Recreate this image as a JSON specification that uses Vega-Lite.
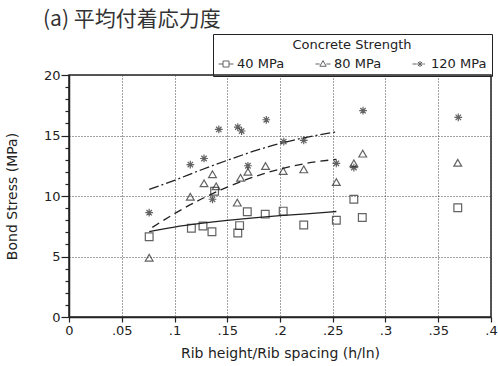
{
  "$schema": "https://vega.github.io/schema/vega-lite/v6.json",
  "width": 422,
  "height": 242,
  "autosize": {"type": "none"},
  "padding": {"left": 69, "top": 75, "right": 7, "bottom": 49},
  "title": {"text": "(a) 平均付着応力度", "anchor": "start", "frame": "group", "dx": -26, "font": "Noto Sans CJK JP", "fontSize": 21, "fontWeight": "normal", "color": "#333"},
  "datasets": {
    "points": [
      {"x": 0.076, "y": 6.64, "series": "40 MPa"},
      {"x": 0.116, "y": 7.33, "series": "40 MPa"},
      {"x": 0.127, "y": 7.52, "series": "40 MPa"},
      {"x": 0.1355, "y": 7.05, "series": "40 MPa"},
      {"x": 0.138, "y": 10.4, "series": "40 MPa"},
      {"x": 0.160, "y": 6.95, "series": "40 MPa"},
      {"x": 0.1617, "y": 7.55, "series": "40 MPa"},
      {"x": 0.169, "y": 8.7, "series": "40 MPa"},
      {"x": 0.186, "y": 8.5, "series": "40 MPa"},
      {"x": 0.203, "y": 8.75, "series": "40 MPa"},
      {"x": 0.2225, "y": 7.6, "series": "40 MPa"},
      {"x": 0.2534, "y": 8.0, "series": "40 MPa"},
      {"x": 0.270, "y": 9.73, "series": "40 MPa"},
      {"x": 0.278, "y": 8.22, "series": "40 MPa"},
      {"x": 0.3685, "y": 9.03, "series": "40 MPa"},
      {"x": 0.076, "y": 4.9, "series": "80 MPa"},
      {"x": 0.115, "y": 9.94, "series": "80 MPa"},
      {"x": 0.128, "y": 11.05, "series": "80 MPa"},
      {"x": 0.136, "y": 11.8, "series": "80 MPa"},
      {"x": 0.1395, "y": 10.8, "series": "80 MPa"},
      {"x": 0.1595, "y": 9.45, "series": "80 MPa"},
      {"x": 0.1626, "y": 11.5, "series": "80 MPa"},
      {"x": 0.1696, "y": 12.0, "series": "80 MPa"},
      {"x": 0.1863, "y": 12.48, "series": "80 MPa"},
      {"x": 0.203, "y": 12.07, "series": "80 MPa"},
      {"x": 0.2225, "y": 12.2, "series": "80 MPa"},
      {"x": 0.2534, "y": 11.15, "series": "80 MPa"},
      {"x": 0.270, "y": 12.7, "series": "80 MPa"},
      {"x": 0.2784, "y": 13.5, "series": "80 MPa"},
      {"x": 0.3685, "y": 12.75, "series": "80 MPa"},
      {"x": 0.076, "y": 8.62, "series": "120 MPa"},
      {"x": 0.115, "y": 12.6, "series": "120 MPa"},
      {"x": 0.128, "y": 13.1, "series": "120 MPa"},
      {"x": 0.136, "y": 9.73, "series": "120 MPa"},
      {"x": 0.142, "y": 15.5, "series": "120 MPa"},
      {"x": 0.160, "y": 15.7, "series": "120 MPa"},
      {"x": 0.1636, "y": 15.37, "series": "120 MPa"},
      {"x": 0.1696, "y": 12.5, "series": "120 MPa"},
      {"x": 0.187, "y": 16.3, "series": "120 MPa"},
      {"x": 0.2036, "y": 14.5, "series": "120 MPa"},
      {"x": 0.2225, "y": 14.6, "series": "120 MPa"},
      {"x": 0.2534, "y": 12.7, "series": "120 MPa"},
      {"x": 0.270, "y": 12.35, "series": "120 MPa"},
      {"x": 0.2787, "y": 17.05, "series": "120 MPa"},
      {"x": 0.369, "y": 16.5, "series": "120 MPa"}
    ],
    "curves": [
      {"x": 0.076, "y": 7.05, "series": "40 MPa"},
      {"x": 0.1, "y": 7.43, "series": "40 MPa"},
      {"x": 0.125, "y": 7.73, "series": "40 MPa"},
      {"x": 0.15, "y": 7.98, "series": "40 MPa"},
      {"x": 0.175, "y": 8.19, "series": "40 MPa"},
      {"x": 0.2, "y": 8.37, "series": "40 MPa"},
      {"x": 0.225, "y": 8.53, "series": "40 MPa"},
      {"x": 0.2534, "y": 8.72, "series": "40 MPa"},
      {"x": 0.079, "y": 7.41, "series": "80 MPa"},
      {"x": 0.1, "y": 8.54, "series": "80 MPa"},
      {"x": 0.125, "y": 9.73, "series": "80 MPa"},
      {"x": 0.15, "y": 10.73, "series": "80 MPa"},
      {"x": 0.175, "y": 11.57, "series": "80 MPa"},
      {"x": 0.2, "y": 12.22, "series": "80 MPa"},
      {"x": 0.225, "y": 12.7, "series": "80 MPa"},
      {"x": 0.2534, "y": 13.03, "series": "80 MPa"},
      {"x": 0.076, "y": 10.55, "series": "120 MPa"},
      {"x": 0.1, "y": 11.3, "series": "120 MPa"},
      {"x": 0.125, "y": 12.15, "series": "120 MPa"},
      {"x": 0.15, "y": 12.95, "series": "120 MPa"},
      {"x": 0.175, "y": 13.7, "series": "120 MPa"},
      {"x": 0.2, "y": 14.35, "series": "120 MPa"},
      {"x": 0.225, "y": 14.85, "series": "120 MPa"},
      {"x": 0.2534, "y": 15.3, "series": "120 MPa"}
    ]
  },
  "encoding": {
    "x": {
      "field": "x", "type": "quantitative",
      "scale": {"domain": [0, 0.4], "nice": false},
      "axis": {
        "values": [0, 0.05, 0.1, 0.15, 0.2, 0.25, 0.3, 0.35, 0.4],
        "labelExpr": "datum.value === 0 ? '0' : replace(format(datum.value, '.2~f'), '0.', '.')",
        "labelFlush": false, "labelOverlap": false,
        "tickSize": 5, "labelPadding": 2,
        "title": "Rib height/Rib spacing (h/ln)", "titlePadding": 9
      }
    },
    "y": {
      "field": "y", "type": "quantitative",
      "scale": {"domain": [0, 20], "nice": false},
      "axis": {
        "values": [0,1,2,3,4,5,6,7,8,9,10,11,12,13,14,15,16,17,18,19,20],
        "labelExpr": "datum.value % 5 === 0 ? datum.label : ''",
        "labelOverlap": false, "labelPadding": 1,
        "tickSize": {"condition": {"test": "datum.value % 5 === 0", "value": 8}, "value": 4},
        "gridOpacity": {"condition": {"test": "datum.value % 5 === 0", "value": 1}, "value": 0},
        "title": "Bond Stress (MPa)", "titlePadding": 24
      }
    }
  },
  "layer": [
    {
      "data": {"name": "curves"},
      "transform": [{"filter": "datum.series === '40 MPa'"}],
      "mark": {"type": "line", "interpolate": "monotone", "color": "#222", "strokeWidth": 1.3},
      "encoding": {}
    },
    {
      "data": {"name": "curves"},
      "transform": [{"filter": "datum.series === '80 MPa'"}],
      "mark": {"type": "line", "interpolate": "monotone", "color": "#222", "strokeWidth": 1.3, "strokeDash": [8, 5]},
      "encoding": {}
    },
    {
      "data": {"name": "curves"},
      "transform": [{"filter": "datum.series === '120 MPa'"}],
      "mark": {"type": "line", "interpolate": "monotone", "color": "#222", "strokeWidth": 1.3, "strokeDash": [10, 3, 2, 3]},
      "encoding": {}
    },
    {
      "data": {"name": "points"},
      "mark": {"type": "point", "filled": false, "color": "#222", "strokeWidth": 1.2, "size": 60},
      "encoding": {
        "shape": {
          "field": "series", "type": "nominal",
          "scale": {"domain": ["40 MPa", "80 MPa", "120 MPa"], "range": ["square", "triangle-up", "M-1,0H1M0,-1V1M-0.7,-0.7L0.7,0.7M-0.7,0.7L0.7,-0.7"]},
          "legend": null
        }
      }
    },
    {
      "data": {"name": "points"},
      "transform": [{"filter": "datum.x > 1"}],
      "mark": {"type": "point", "filled": false, "color": "#222", "strokeWidth": 1},
      "encoding": {
        "shape": {
          "field": "series", "type": "nominal",
          "scale": {"domain": ["40 MPa", "80 MPa", "120 MPa"], "range": [
            "M-1,0H-0.4M0.4,0H1M-0.4,-0.4H0.4V0.4H-0.4Z",
            "M-1,0H-0.45M0.45,0H1M0,-0.45L0.42,0.3H-0.42Z",
            "M-1,0H-0.45M0.45,0H0.65M-0.4,0H0.4M0,-0.4V0.4M-0.28,-0.28L0.28,0.28M-0.28,0.28L0.28,-0.28"
          ]},
          "legend": {
            "title": "Concrete Strength",
            "orient": "none", "legendX": 144, "legendY": -41,
            "direction": "horizontal",
            "titleAnchor": "middle", "titleFontSize": 13, "titleFontWeight": "normal", "titleColor": "#222", "titlePadding": 4,
            "labelFontSize": 13, "labelColor": "#222", "labelOffset": 3,
            "strokeColor": "#222", "padding": 5,
            "gridAlign": "all", "columnPadding": 20,
            "symbolSize": 225, "symbolStrokeColor": "#222", "symbolStrokeWidth": 1, "symbolFillColor": "transparent"
          }
        }
      }
    }
  ],
  "resolve": {"scale": {"shape": "independent"}},
  "config": {
    "font": "DejaVu Sans",
    "view": {"stroke": "#222", "strokeWidth": 1.5},
    "axis": {
      "domainColor": "#222", "domainWidth": 1.5,
      "tickColor": "#222", "tickWidth": 1.2,
      "labelColor": "#222", "labelFontSize": 13, "labelFont": "DejaVu Sans",
      "titleColor": "#222", "titleFontSize": 14, "titleFontWeight": "normal", "titleFont": "DejaVu Sans",
      "grid": true, "gridColor": "#444", "gridDash": [1, 2], "gridWidth": 1
    }
  }
}
